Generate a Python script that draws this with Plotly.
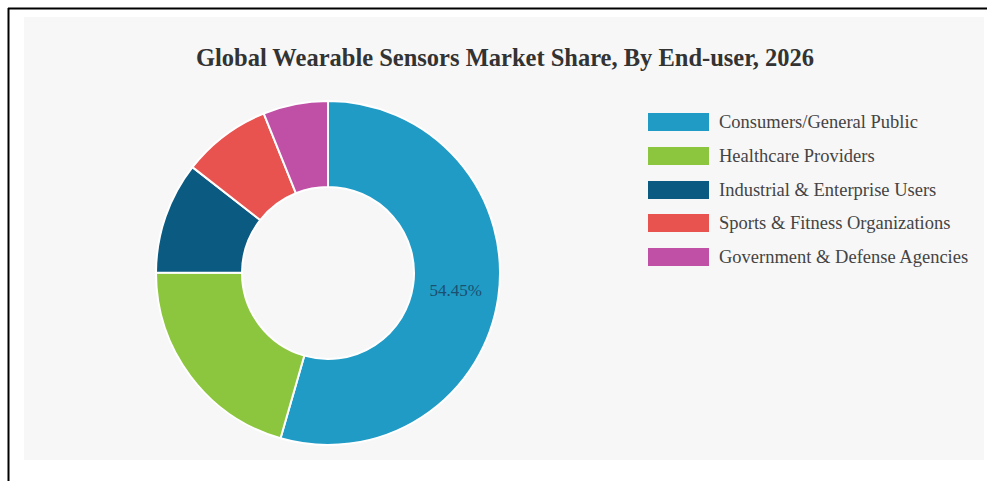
import plotly.graph_objects as go

W, H = 987, 481

categories = [
    "Consumers/General Public",
    "Healthcare Providers",
    "Industrial & Enterprise Users",
    "Sports & Fitness Organizations",
    "Government & Defense Agencies",
]
shares = [54.45, 20.6, 10.5, 8.35, 6.1]
colors = ["#1f9bc6", "#8cc63e", "#0b5a82", "#e8524f", "#c04fa6"]
slice_text = ["54.45%", "", "", "", ""]
title_text = "Global Wearable Sensors Market Share, By End-user, 2026"


def px(x):
    return x / W


def py(y):
    return 1 - y / H


fig = go.Figure()
fig.add_trace(go.Pie(
    labels=categories,
    values=shares,
    text=slice_text,
    textinfo="text",
    textposition="inside",
    insidetextorientation="horizontal",
    textfont=dict(family="Liberation Serif", size=17, color="#1d4f6e"),
    hole=0.5,
    sort=False,
    direction="clockwise",
    rotation=0,
    marker=dict(colors=colors, line=dict(color="white", width=2)),
    domain=dict(x=[px(156), px(500)], y=[py(445), py(101)]),
    showlegend=False,
    hoverinfo="label+percent",
))

shapes = [
    # gray panel
    dict(type="rect", xref="paper", yref="paper", x0=px(24), x1=px(984), y0=py(460), y1=py(17),
         fillcolor="#f7f7f7", line=dict(width=0), layer="below"),
    # black frame lines
    dict(type="line", xref="paper", yref="paper", x0=px(8), x1=px(987), y0=py(8.5), y1=py(8.5),
         line=dict(color="black", width=2), layer="below"),
    dict(type="line", xref="paper", yref="paper", x0=px(8.5), x1=px(8.5), y0=py(8), y1=py(481),
         line=dict(color="black", width=2), layer="below"),
]
annotations = []
row_y = [122, 156, 190, 223, 257]
for i, name in enumerate(categories):
    yc = row_y[i]
    shapes.append(dict(type="rect", xref="paper", yref="paper", x0=px(648), x1=px(709),
                       y0=py(yc + 9), y1=py(yc - 9), fillcolor=colors[i],
                       line=dict(width=0), layer="below"))
    annotations.append(dict(text=name, xref="paper", yref="paper", x=px(717), y=py(yc),
                            xanchor="left", yanchor="middle", showarrow=False,
                            font=dict(family="Liberation Serif", size=18.5, color="#444444")))

fig.update_layout(
    width=W, height=H,
    margin=dict(l=0, r=0, t=0, b=0),
    paper_bgcolor="white",
    plot_bgcolor="white",
    shapes=shapes,
    annotations=annotations,
    title=dict(text="<b>" + title_text + "</b>", x=px(505), xanchor="center",
               y=py(57), yanchor="middle", yref="paper",
               font=dict(family="Liberation Serif", size=24.5, color="#333333")),
)

fig.write_html("out.html")
